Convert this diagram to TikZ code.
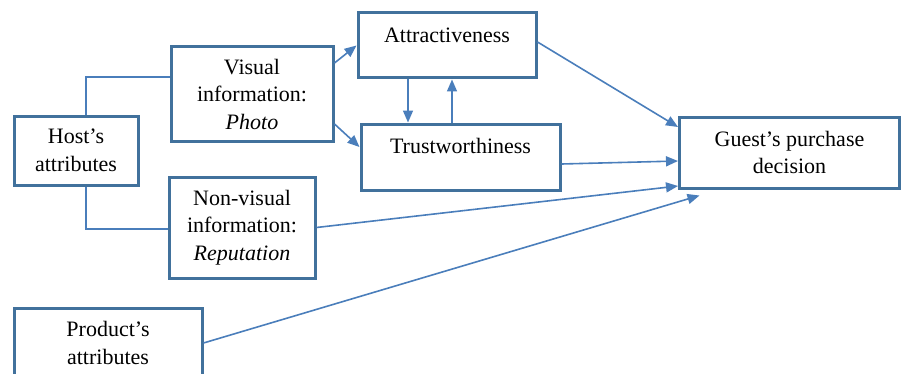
\documentclass[tikz,border=0pt]{standalone}
\usepackage{fontspec}
\setmainfont{Liberation Serif}
\usetikzlibrary{arrows.meta}
\definecolor{boxblue}{HTML}{41719C}
\definecolor{lineblue}{HTML}{4A7EBB}
\tikzset{
    box/.style={draw=boxblue, line width=1.5pt, fill=white, align=center, inner sep=0pt,
        font=\fontsize{11}{13.75}\selectfont},
    link/.style={draw=lineblue, line width=0.8pt},
    arr/.style={link, -{Triangle[length=6pt, width=5pt]}}
}

\begin{document}
\begin{tikzpicture}[x=0.5pt, y=-0.5pt]
    % Page frame
    \useasboundingbox (0,0) rectangle (903,374);
    \clip (0,0) rectangle (903,374);

    % Left column
    \node[box, minimum width=62pt, minimum height=34.5pt] (host) at (76,150.5) {Host's\\attributes};
    \node[box, minimum width=94pt, minimum height=35pt] (product) at (108,343) {Product's\\attributes};

    % Information boxes
    \node[box, minimum width=81pt, minimum height=47pt] (visual) at (252,94) {Visual\\information:\\\textit{Photo}};
    \node[box, minimum width=73pt, minimum height=50.5pt] (nonvisual) at (242,227.5) {Non-visual\\information:\\\textit{Reputation}};

    % Perception boxes (text sits in the upper part)
    \node[box, minimum width=89pt, text height=15pt, text depth=17.5pt] (attract) at (447,45.5) {Attractiveness};
    \node[box, minimum width=99.5pt, text height=14.5pt, text depth=18.5pt] (trust) at (460.5,157) {Trustworthiness};

    % Outcome
    \node[box, minimum width=110pt, minimum height=35.5pt] (guest) at (789.5,152.5) {Guest's purchase\\decision};

    % Host links
    \draw[link] ([xshift=5pt]host.north) |- ([yshift=8.5pt]visual.west);
    \draw[link] ([xshift=5pt]host.south) |- ([yshift=-0.75pt]nonvisual.west);

    % Photo to perceptions
    \draw[arr] ([yshift=15.5pt]visual.east) -- (attract.west);
    \draw[arr] ([yshift=-15pt]visual.east) -- ([yshift=5pt]trust.west);

    % Between perceptions
    \draw[arr] ([xshift=-19.5pt]attract.south) -- ([xshift=-19.5pt]attract.south |- trust.north);
    \draw[arr] ([xshift=2.5pt]attract.south |- trust.north) -- ([xshift=2.5pt]attract.south);

    % Into decision
    \draw[arr] ([yshift=1.75pt]attract.east) -- ([yshift=12.75pt]guest.west);
    \draw[arr] ([yshift=-3.5pt]trust.east) -- ([yshift=-4.25pt]guest.west);
    \draw[arr] (nonvisual.east) -- ([yshift=-16.75pt]guest.west);
    \draw[arr] (product.east) -- ([xshift=-45pt, yshift=-3pt]guest.south);
\end{tikzpicture}
\end{document}
